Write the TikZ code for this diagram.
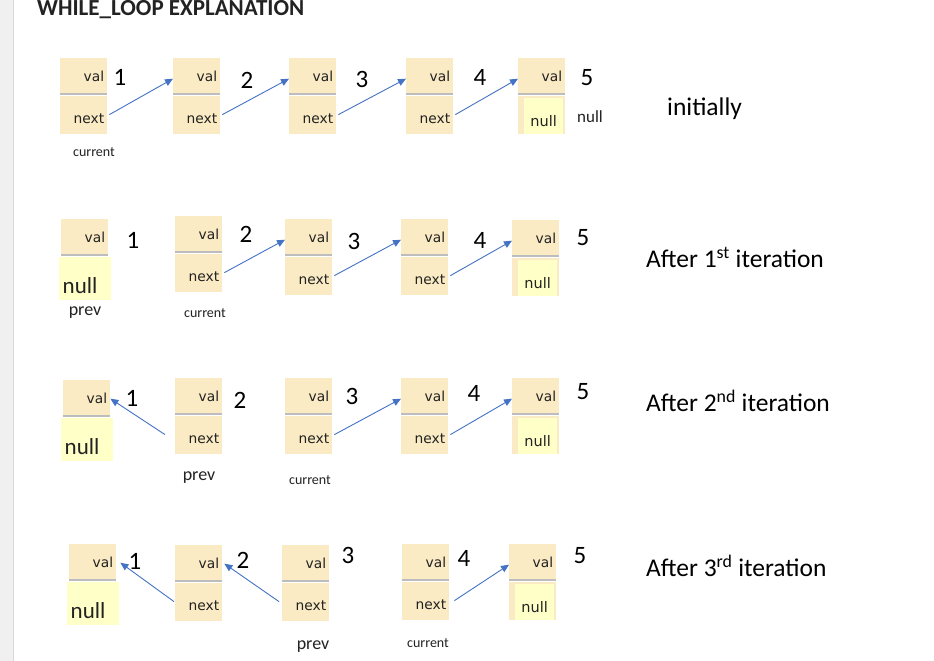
\documentclass[tikz,border=0pt]{standalone}
\usepackage{fontspec}
\setmainfont{Carlito}
\newfontfamily\boxfont{DejaVu Sans}
\usetikzlibrary{arrows.meta,positioning}
\definecolor{boxtan}{HTML}{FBEBC5}
\definecolor{nullyellow}{HTML}{FFFFC8}
\definecolor{divgrey}{HTML}{BDBDBD}
\definecolor{ptrblue}{HTML}{4472C4}
\definecolor{inkgrey}{HTML}{222222}
\begin{document}
\begin{tikzpicture}[x=1pt,y=-1pt,
    valbox/.style={fill=boxtan,anchor=north west,inner sep=0pt,minimum width=47pt,
      minimum height=37pt,text width=41pt,align=right,text=inkgrey,
      font=\boxfont\fontsize{13.8}{15}\selectfont,
      path picture={\draw[divgrey,line width=2pt]
        ([yshift=1pt]path picture bounding box.south west) --
        ([yshift=1pt]path picture bounding box.south east);}},
    nextbox/.style={fill=boxtan,inner sep=0pt,minimum width=47pt,minimum height=38pt,
      text width=41pt,align=right,text height=18pt,text depth=0pt,text=inkgrey,
      font=\boxfont\fontsize{13.8}{15}\selectfont},
    nullbox/.style={fill=nullyellow,inner sep=0pt,minimum width=52pt,minimum height=43pt,
      text width=44pt,align=left,text height=30pt,text depth=0pt,text=inkgrey,
      font=\fontsize{23}{25}\selectfont},
    nullin/.style={fill=nullyellow,anchor=north west,inner sep=0pt,minimum width=39pt,
      minimum height=36pt,text height=22pt,text depth=0pt,text=inkgrey,
      font=\boxfont\fontsize{14.5}{16}\selectfont},
    numlbl/.style={text=black,inner sep=0pt,font=\fontsize{25}{27}\selectfont},
    steplbl/.style={text=black,inner sep=0pt,anchor=west,font=\fontsize{25.5}{28}\selectfont},
    curlbl/.style={text=inkgrey,inner sep=0pt,font=\fontsize{14}{16}\selectfont},
    prevlbl/.style={text=inkgrey,inner sep=0pt,font=\fontsize{18}{20}\selectfont},
    ptr/.style={ptrblue,line width=0.9pt,-{Triangle[length=8pt,width=7pt]}}]
  \useasboundingbox (0,0) rectangle (934,661);
  \fill[white] (0,0) rectangle (934,661);
  \fill[black!6] (0,0) rectangle (13,661);
  \draw[black!15,line width=1pt] (13.5,0) -- (13.5,661);
  \node[anchor=base west,inner sep=0pt,text=inkgrey,font=\bfseries\fontsize{23}{25}\selectfont]
    (title) at (37,16) {WHILE\_LOOP EXPLANATION};

  \node[valbox] (v11) at (60,58) {val};
  \node[nextbox,below=0pt of v11] (n11) {next};
  \node[valbox] (v12) at (173,58) {val};
  \node[nextbox,below=0pt of v12] (n12) {next};
  \node[valbox] (v13) at (289,58) {val};
  \node[nextbox,below=0pt of v13] (n13) {next};
  \node[valbox] (v14) at (406,58) {val};
  \node[nextbox,below=0pt of v14] (n14) {next};
  \node[valbox] (v15) at (518,58) {val};
  \node[nextbox,below=0pt of v15] (n15) {};
  \node[nullin] (z15) at ([xshift=6pt,yshift=-2pt]n15.north west) {null};
  \node[numlbl] (k11) at (120,77) {1};
  \node[numlbl] (k12) at (247,80) {2};
  \node[numlbl] (k13) at (362,79) {3};
  \node[numlbl] (k14) at (480,77) {4};
  \node[numlbl] (k15) at (587,78) {5};
  \node[inner sep=0pt,text=inkgrey,font=\fontsize{17}{19}\selectfont] (end1) at (590,117) {null};
  \node[curlbl] (cur1) at (94,152) {current};
  \node[steplbl] (step1) at (667,109) {initially};

  \node[valbox] (v21) at (61,219) {val};
  \node[nullbox,below=0pt of v21] (z21) {null};
  \node[valbox] (v22) at (175,216) {val};
  \node[nextbox,below=0pt of v22] (n22) {next};
  \node[valbox] (v23) at (285,219) {val};
  \node[nextbox,below=0pt of v23] (n23) {next};
  \node[valbox] (v24) at (401,219) {val};
  \node[nextbox,below=0pt of v24] (n24) {next};
  \node[valbox] (v25) at (512,220) {val};
  \node[nextbox,below=0pt of v25] (n25) {};
  \node[nullin] (z25) at ([xshift=6pt,yshift=-2pt]n25.north west) {null};
  \node[numlbl] (k21) at (133,240) {1};
  \node[numlbl] (k22) at (246,234) {2};
  \node[numlbl] (k23) at (354,241) {3};
  \node[numlbl] (k24) at (480,240) {4};
  \node[numlbl] (k25) at (583,238) {5};
  \node[prevlbl] (prev2) at (85,313) {prev};
  \node[curlbl] (cur2) at (205,313) {current};
  \node[steplbl] (step2) at (646,257) {After 1\textsuperscript{st} iteration};

  \node[valbox] (v31) at (63,380) {val};
  \node[nullbox,below=0pt of v31] (z31) {null};
  \node[valbox] (v32) at (175,378) {val};
  \node[nextbox,below=0pt of v32] (n32) {next};
  \node[valbox] (v33) at (285,378) {val};
  \node[nextbox,below=0pt of v33] (n33) {next};
  \node[valbox] (v34) at (401,378) {val};
  \node[nextbox,below=0pt of v34] (n34) {next};
  \node[valbox] (v35) at (512,378) {val};
  \node[nextbox,below=0pt of v35] (n35) {};
  \node[nullin] (z35) at ([xshift=6pt,yshift=-2pt]n35.north west) {null};
  \node[numlbl] (k31) at (132,398) {1};
  \node[numlbl] (k32) at (240,400) {2};
  \node[numlbl] (k33) at (352,396) {3};
  \node[numlbl] (k34) at (474,393) {4};
  \node[numlbl] (k35) at (583,392) {5};
  \node[prevlbl] (prev3) at (199,478) {prev};
  \node[curlbl] (cur3) at (310,480) {current};
  \node[steplbl] (step3) at (646,401) {After 2\textsuperscript{nd} iteration};

  \node[valbox] (v41) at (69,544) {val};
  \node[nullbox,below=0pt of v41] (z41) {null};
  \node[valbox] (v42) at (175,545) {val};
  \node[nextbox,below=0pt of v42] (n42) {next};
  \node[valbox] (v43) at (282,545) {val};
  \node[nextbox,below=0pt of v43] (n43) {next};
  \node[valbox] (v44) at (402,544) {val};
  \node[nextbox,below=0pt of v44] (n44) {next};
  \node[valbox] (v45) at (509,544) {val};
  \node[nextbox,below=0pt of v45] (n45) {};
  \node[nullin] (z45) at ([xshift=6pt,yshift=-2pt]n45.north west) {null};
  \node[numlbl] (k41) at (135,561) {1};
  \node[numlbl] (k42) at (243,560) {2};
  \node[numlbl] (k43) at (348,555) {3};
  \node[numlbl] (k44) at (464,558) {4};
  \node[numlbl] (k45) at (580,556) {5};
  \node[prevlbl] (prev4) at (313,647) {prev};
  \node[curlbl] (cur4) at (428,643) {current};
  \node[steplbl] (step4) at (646,566) {After 3\textsuperscript{rd} iteration};

  \begin{scope}[ptr]
    \draw ([xshift=2pt]n11.east) to ([yshift=-2pt]v12.west);
    \draw ([xshift=2pt]n12.east) to ([yshift=-2pt]v13.west);
    \draw ([xshift=2pt]n13.east) to ([yshift=-2pt]v14.west);
    \draw ([xshift=2pt]n14.east) to ([yshift=-2pt]v15.west);
    \draw ([xshift=2pt]n22.east) to ([yshift=-2pt]v23.west);
    \draw ([xshift=2pt]n23.east) to ([yshift=-2pt]v24.west);
    \draw ([xshift=2pt]n24.east) to ([yshift=-2pt]v25.west);
    \draw ([xshift=-10pt]n32.west) to (v31.east);
    \draw ([xshift=2pt]n33.east) to ([yshift=-2pt]v34.west);
    \draw ([xshift=2pt]n34.east) to ([yshift=-2pt]v35.west);
    \draw ([xshift=-1pt]n42.west) to ([xshift=4pt]v41.east);
    \draw ([xshift=-3pt]n43.west) to ([xshift=2pt]v42.east);
    \draw ([xshift=5pt]n44.east) to ([yshift=-2pt]v45.west);
  \end{scope}
\end{tikzpicture}
\end{document}
